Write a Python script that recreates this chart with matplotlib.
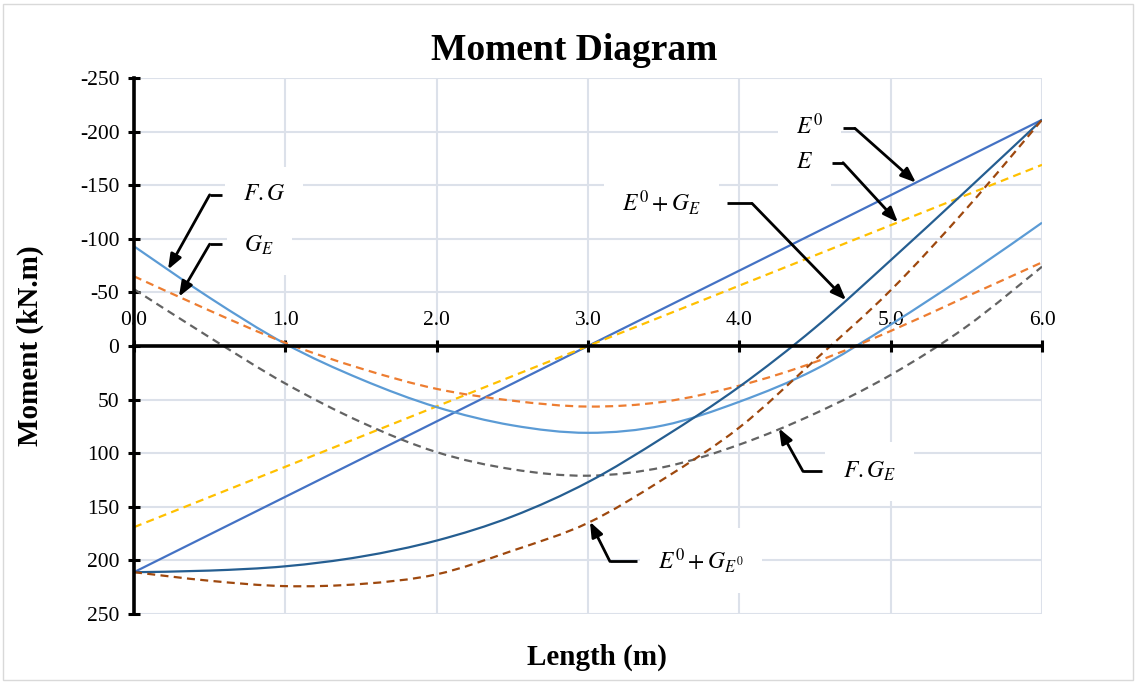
import numpy as np
import matplotlib
matplotlib.use("Agg")
import matplotlib.pyplot as plt
from matplotlib.path import Path
from matplotlib.patches import PathPatch, Rectangle
from matplotlib.ticker import FormatStrFormatter

# Stations along the beam (m)
length = [0.0, 0.5, 1.0, 1.5, 2.0, 2.5, 3.0, 3.5, 4.0, 4.5, 5.0, 5.5, 6.0]
ends = [0.0, 6.0]

# Bending moments (kN.m); positive values are plotted downward
m_E0 = [211, -211]
m_E = [169, -169]
m_FG = [-93, -45, -2, 31, 57, 74, 81, 74, 52, 22, -20, -66, -115]
m_GE = [-65, -33, -3, 21, 40, 51, 56.5, 52, 37, 15, -14, -46, -78]
m_FGE = [-53, -8, 35, 71, 99, 115, 121, 113, 92, 63, 27, -18, -74]
m_E0_GE = [211, 209.5, 205.5, 196.5, 181.5, 159, 127, 85, 38, -17, -80, -145, -211]
m_E0_GE0 = [211, 219, 224, 222, 213, 191, 165, 124, 76, 13, -52, -128, -211]

x_ticks = [0, 1, 2, 3, 4, 5, 6]
y_ticks = [-250, -200, -150, -100, -50, 0, 50, 100, 150, 200, 250]

plt.rcParams["font.family"] = ["Liberation Serif", "DejaVu Serif"]
plt.rcParams["mathtext.fontset"] = "stix"
plt.rcParams["axes.unicode_minus"] = False

W, H = 1137, 684
fig = plt.figure(figsize=(W / 100, H / 100), dpi=100)
ax = fig.add_axes([134 / W, 1 - 614 / H, (1042 - 134) / W, (614 - 78) / H])

# outer chart frame
fig.add_artist(Rectangle((3 / W, 4 / H), 1130 / W, 676 / H, transform=fig.transFigure,
                         fill=False, ec="#D9D9D9", lw=1.0))


def smooth_path(xs, ys):
    """Catmull-Rom style smoothed line as cubic Bezier segments."""
    p = np.column_stack([xs, ys]).astype(float)
    n = len(p)
    verts = [p[0]]
    codes = [Path.MOVETO]
    for i in range(n - 1):
        p0 = p[i - 1] if i > 0 else p[i]
        p1, p2 = p[i], p[i + 1]
        p3 = p[i + 2] if i + 2 < n else p[i + 1]
        verts += [p1 + (p2 - p0) / 6.0, p2 - (p3 - p1) / 6.0, p2]
        codes += [Path.CURVE4] * 3
    return Path(verts, codes)


dash = (0, (3.6, 2.4))
series = [
    (ends, m_E0, "#4472C4", "-"),
    (ends, m_E, "#FFC000", dash),
    (length, m_FG, "#5B9BD5", "-"),
    (length, m_GE, "#ED7D31", dash),
    (length, m_FGE, "#636363", dash),
    (length, m_E0_GE, "#255E91", "-"),
    (length, m_E0_GE0, "#9E480E", dash),
]
for xs, ys, col, ls in series:
    ax.add_patch(PathPatch(smooth_path(xs, ys), fill=False, ec=col, lw=1.6,
                           ls=ls, zorder=2, capstyle="butt"))

ax.set_xlim(0, 6)
ax.set_ylim(250, -250)
ax.set_xticks(x_ticks)
ax.set_yticks(y_ticks)
ax.xaxis.set_major_formatter(FormatStrFormatter("%.1f"))

ax.set_axisbelow(True)
ax.grid(True, color="#DCE1EA", lw=1.5)

for s in ("right", "bottom"):
    ax.spines[s].set_visible(False)
ax.spines["top"].set_position(("data", 0))
for s in ("top", "left"):
    ax.spines[s].set_linewidth(2.6)
    ax.spines[s].set_color("black")
    ax.spines[s].set_zorder(2.5)
ax.xaxis.set_ticks_position("top")
ax.xaxis.set_label_position("bottom")
ax.tick_params(axis="both", direction="inout", length=9, width=2.2,
               labelsize=15.5, colors="black")
ax.tick_params(axis="x", pad=7)
ax.tick_params(axis="y", pad=6)

fig.text(574 / W, 1 - 51 / H, "Moment Diagram", fontsize=27, fontweight="bold",
         ha="center", va="center")
ax.set_xlabel("Length (m)", fontsize=21, fontweight="bold")
ax.xaxis.set_label_coords((597 - 134) / 908, -(644 - 614) / 536)
ax.set_ylabel("Moment (kN.m)", fontsize=21, fontweight="bold")
ax.yaxis.set_label_coords(-(134 - 44) / 908, 0.5)

# callouts: (text, text x, text y, elbow start x, elbow end x, elbow y, tip x, curve)
callouts = [
    (r"$F.G$", 0.72, -141, 0.58, 0.50, -141, 0.225, (length, m_FG)),
    (r"$G_E$", 0.73, -94, 0.58, 0.50, -95, 0.297, (length, m_GE)),
    (r"$E^0$", 4.375, -205, 4.685, 4.764, -203, 5.167, (ends, m_E0)),
    (r"$E$", 4.375, -171, 4.612, 4.685, -171, 5.048, (ends, m_E)),
    (r"$E^0+G_E$", 3.225, -134, 3.918, 4.084, -133, 4.705, (length, m_E0_GE)),
    (r"$F.G_E$", 4.685, 117, 4.546, 4.421, 117, 4.262, (length, m_FGE)),
    (r"$E^0+G_{E^0}$", 3.463, 200, 3.324, 3.145, 201, 3.013, (length, m_E0_GE0)),
]
for txt, tx, ty, ex0, ex1, ey, tipx, (cx, cy) in callouts:
    tipy = float(np.interp(tipx, cx, cy))
    ax.text(tx, ty, txt, fontsize=17, ha="left", va="center", zorder=1.5,
            bbox=dict(boxstyle="square,pad=0.75", fc="white", ec="none"))
    ax.plot([ex0, ex1], [ey, ey], color="black", lw=2.0, zorder=4,
            solid_capstyle="butt")
    ax.annotate("", xy=(tipx, tipy), xytext=(ex1, ey), zorder=4,
                arrowprops=dict(arrowstyle="-|>,head_length=0.9,head_width=0.35",
                                color="black", lw=2.0, shrinkA=0, shrinkB=0))

fig.savefig("out.png", dpi=100)
